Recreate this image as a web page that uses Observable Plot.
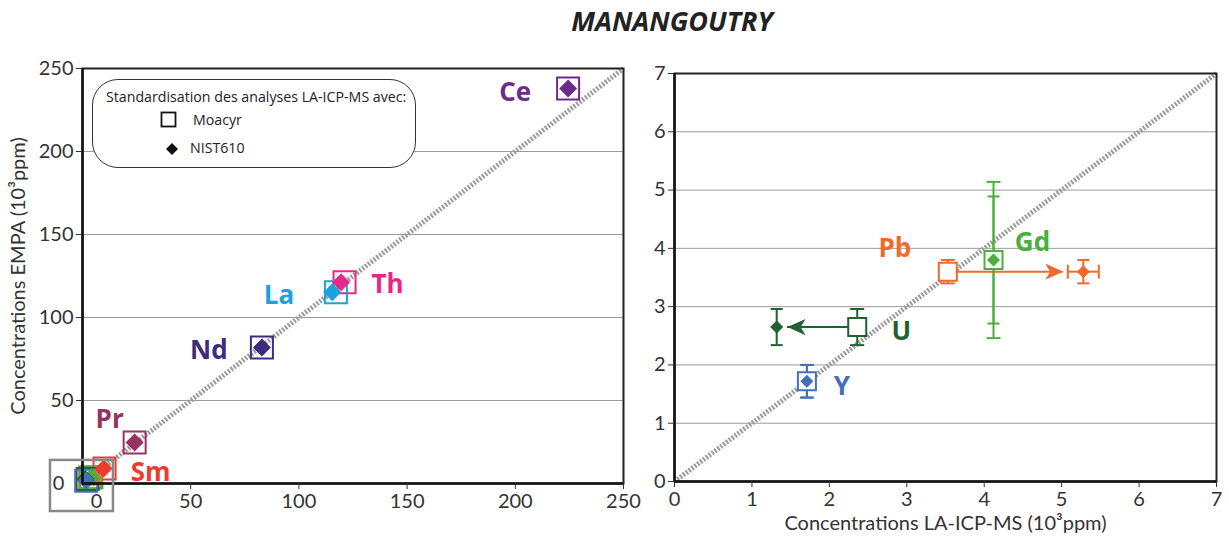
<!DOCTYPE html>
<html><head><meta charset="utf-8">
<script src="https://cdn.jsdelivr.net/npm/d3@7"></script>
<script src="https://cdn.jsdelivr.net/npm/@observablehq/plot@0.6"></script>
<style>
body{margin:0;background:#fff;}
#wrap{position:relative;width:1229px;height:545px;overflow:hidden;font-family:"Open Sans",Lato,sans-serif;color:#222}
#title{position:absolute;left:0;width:1344px;top:2px;text-align:center;font:italic bold 27px "Open Sans",sans-serif;color:#222}
#left{position:absolute;left:0;top:40px}
#right{position:absolute;left:630px;top:40px}
#legend{position:absolute;left:92px;top:79px;width:322px;height:87px;border:1.3px solid #333;border-radius:26px;background:#fff;font-size:14.2px}
#legend .t{position:absolute;left:13px;top:7px;white-space:nowrap}
#legend .r{position:absolute;white-space:nowrap}
svg{overflow:visible}
</style></head><body>
<div id="wrap">
<div id="title">MANANGOUTRY</div>
<div id="left"></div>
<div id="right"></div>
<div id="legend">
  <div class="t">Standardisation des analyses LA-ICP-MS avec:</div>
  <svg style="position:absolute;left:67px;top:31px" width="18" height="18"><rect x="1.5" y="1.5" width="14" height="14" fill="none" stroke="#111" stroke-width="1.8"/></svg>
  <div class="r" style="left:100px;top:30px">Moacyr</div>
  <svg style="position:absolute;left:73px;top:63px" width="12" height="12"><path d="M6,0L12,6L6,12L0,6Z" fill="#111"/></svg>
  <div class="r" style="left:97px;top:58px">NIST610</div>
</div>
</div>
<script>
// ---- data (10^3 ppm) ----
const elements = ["Ce","Th","La","Nd","Pr","Sm","Pb","Gd","U","Y"];
const moacyrX  = [224.4, 121.1, 117.1, 82.9, 24.1, 10.2, 3.53, 4.12, 2.36, 1.71]; // LA-ICP-MS, Moacyr standard
const nistX    = [224.4, 119.5, 115.4, 82.9, 24.1,  9.8, 5.28, 4.12, 1.32, 1.71]; // LA-ICP-MS, NIST610 standard
const empa     = [238.0, 121.3, 115.2, 81.9, 24.7,  9.0, 3.60, 3.80, 2.65, 1.72]; // EMPA
const moacyrErrY = [0,0,0,0,0,0, 0.20, 1.34, 0.31, 0.28];
const nistErrY   = [0,0,0,0,0,0, 0.20, 1.09, 0.31, 0.28];
const nistErrX   = [0,0,0,0,0,0, 0.20, 0,    0,    0   ];
const colors = ["#6b2d8b","#e6288a","#1ba1dc","#3d2b80","#973262","#ec3b2f","#f06a2c","#4bae3f","#1f6130","#4470b8"];
const rightElements = ["Pb","Gd","U","Y"];
const arrowElements = ["Pb","U"];
const arrowTips = [5.02, 1.46];
const leftTicks = [50, 100, 150, 200, 250];
const rightTicks = [0, 1, 2, 3, 4, 5, 6, 7];
const leftDomain = [0, 250];
const rightDomain = [0, 7];

// ---- styling (pixel offsets of labels) ----
const leftLabelOffsets = {Ce:[-53,4], Th:[43,3], La:[-57,3], Nd:[-53,3], Pr:[-25,-23], Sm:[46,4]};
const rightLabelOffsets = {Pb:[-53,-23], Gd:[39,-17], U:[44,5], Y:[35,5]};

const rows = elements.map((el,i)=>({el, mx:moacyrX[i], nx:nistX[i], y:empa[i], emy:moacyrErrY[i], eny:nistErrY[i], enx:nistErrX[i], c:colors[i]}));
const byEl = Object.fromEntries(rows.map(r=>[r.el,r]));

// custom symbols (r = Plot radius)
const rad = s => Math.sqrt(s/Math.PI);
const sqSym = {draw(ctx,s){const r=rad(s);ctx.moveTo(-r,-r);ctx.lineTo(r,-r);ctx.lineTo(r,r);ctx.lineTo(-r,r);ctx.closePath();}};
const diaSym = {draw(ctx,s){const r=rad(s);ctx.moveTo(0,-r);ctx.lineTo(r,0);ctx.lineTo(0,r);ctx.lineTo(-r,0);ctx.closePath();}};
const hCap = {draw(ctx,s){const r=rad(s);ctx.moveTo(-r,0);ctx.lineTo(r,0);}};
const vCap = {draw(ctx,s){const r=rad(s);ctx.moveTo(0,-r);ctx.lineTo(0,r);}};
const headSym = {draw(ctx,s){const r=rad(s);ctx.moveTo(0,0);ctx.lineTo(-2*r,-0.9*r);ctx.lineTo(-1.45*r,0);ctx.lineTo(-2*r,0.9*r);ctx.closePath();}};

const diag = d => Plot.line(d, {x: v=>v, y: v=>v, stroke:"#9c9c9c", strokeWidth:5, strokeDasharray:"2,1.6", strokeLinecap:"butt"});
const fontFamily = 'Lato, "Open Sans", sans-serif';
const tickFont = 20;

// ---------- LEFT PANEL ----------
const leftMarks = [
  Plot.ruleY(leftTicks.slice(0,-1), {stroke:"#9a9a9a", strokeWidth:1}),
  diag(leftDomain),
  Plot.dot(rows, {x:"mx", y:"y", symbol:sqSym, r:11, stroke:"c", fill:"none", strokeWidth:2}),
  Plot.dot(rows, {x:"nx", y:"y", symbol:diaSym, r:9, fill:"c"}),
  ...Object.entries(leftLabelOffsets).map(([el,[dx,dy]])=>Plot.text([byEl[el]], {x:"mx", y:"y", text:"el", fill:"c", dx, dy, fontSize:26, fontWeight:"bold", fontFamily:'"Open Sans", sans-serif'})),
  Plot.frame({stroke:"#222", strokeWidth:2}),
  Plot.ruleX([0], {stroke:"#111", strokeWidth:2.5}),
  Plot.ruleY([0], {stroke:"#111", strokeWidth:2.5}),
  Plot.rect([{x1:-14.8, x2:14.3, y1:-16.9, y2:13.9}], {x1:"x1", x2:"x2", y1:"y1", y2:"y2", fill:"none", stroke:"#888", strokeWidth:2.5}),
  Plot.text([0], {x:0, y:0, text:()=>"0", dx:-24, dy:0, fontSize:tickFont, fill:"#333"}),
  Plot.text([0], {x:0, y:0, text:()=>"0", dx:14, dy:18, fontSize:tickFont, fill:"#333"}),
  Plot.axisY({ticks:leftTicks, tickSize:6, tickPadding:3, fontSize:tickFont, label:"Concentrations EMPA (10³ppm)", labelAnchor:"center", labelArrow:"none", labelOffset:72}),
  Plot.axisX({ticks:leftTicks, tickSize:6, tickPadding:4, fontSize:tickFont, label:null})
];
const left = Plot.plot({
  width:630, height:500, marginLeft:82, marginTop:28, marginBottom:57, marginRight:7,
  style:{fontFamily, fontSize:"20px", color:"#333", background:"transparent", overflow:"visible"},
  x:{domain:leftDomain}, y:{domain:leftDomain}, color:{type:"identity"},
  marks:leftMarks
});
document.getElementById("left").appendChild(left);

// ---------- RIGHT PANEL ----------
const rr = rightElements.map(e=>byEl[e]);
const arrows = arrowElements.map((e,i)=>({...byEl[e], tip:arrowTips[i]}));
const rightMarks = [
  Plot.ruleY(rightTicks.slice(1,-1), {stroke:"#9a9a9a", strokeWidth:1}),
  diag(rightDomain),
  Plot.ruleY(arrows, {y:"y", x1:"mx", x2:"tip", stroke:"c", strokeWidth:2}),
  ...arrows.map(a=>Plot.dot([a], {x:"tip", y:"y", symbol:headSym, r:9, fill:"c", rotate: a.tip < a.mx ? 180 : 0})),
  Plot.ruleX(rr, {x:"mx", y1:d=>d.y-d.emy, y2:d=>d.y+d.emy, stroke:"c", strokeWidth:2}),
  Plot.dot(rr.flatMap(d=>[{...d, cy:d.y-d.emy},{...d, cy:d.y+d.emy}]), {x:"mx", y:"cy", symbol:hCap, r:7, stroke:"c", strokeWidth:2}),
  Plot.ruleX(rr, {x:"nx", y1:d=>d.y-d.eny, y2:d=>d.y+d.eny, stroke:"c", strokeWidth:2}),
  Plot.dot(rr.flatMap(d=>[{...d, cy:d.y-d.eny},{...d, cy:d.y+d.eny}]), {x:"nx", y:"cy", symbol:hCap, r:6, stroke:"c", strokeWidth:2}),
  Plot.ruleY(rr.filter(d=>d.enx>0), {y:"y", x1:d=>d.nx-d.enx, x2:d=>d.nx+d.enx, stroke:"c", strokeWidth:2}),
  Plot.dot(rr.filter(d=>d.enx>0).flatMap(d=>[{...d, cx:d.nx-d.enx},{...d, cx:d.nx+d.enx}]), {x:"cx", y:"y", symbol:vCap, r:7, stroke:"c", strokeWidth:2}),
  Plot.dot(rr, {x:"mx", y:"y", symbol:sqSym, r:9, stroke:"c", fill:"white", strokeWidth:2}),
  Plot.dot(rr, {x:"nx", y:"y", symbol:diaSym, r:6.5, fill:"c"}),
  ...Object.entries(rightLabelOffsets).map(([el,[dx,dy]])=>Plot.text([byEl[el]], {x:"mx", y:"y", text:"el", fill:"c", dx, dy, fontSize:26, fontWeight:"bold", fontFamily:'"Open Sans", sans-serif'})),
  Plot.frame({stroke:"#222", strokeWidth:2}),
  Plot.ruleX([0], {stroke:"#111", strokeWidth:2.5}),
  Plot.ruleY([0], {stroke:"#111", strokeWidth:2.5}),
  Plot.axisY({ticks:rightTicks, tickFormat:"d", tickSize:6, tickPadding:3, fontSize:tickFont, label:null}),
  Plot.axisX({ticks:rightTicks, tickFormat:"d", tickSize:6, tickPadding:4, fontSize:tickFont, label:"Concentrations LA-ICP-MS (10³ppm)", labelAnchor:"center", labelArrow:"none", labelOffset:48})
];
const right = Plot.plot({
  width:599, height:500, marginLeft:44, marginTop:33, marginBottom:59, marginRight:13,
  style:{fontFamily, fontSize:"20px", color:"#333", background:"transparent", overflow:"visible"},
  x:{domain:rightDomain}, y:{domain:rightDomain}, color:{type:"identity"},
  marks:rightMarks
});
document.getElementById("right").appendChild(right);
</script>
</body></html>
